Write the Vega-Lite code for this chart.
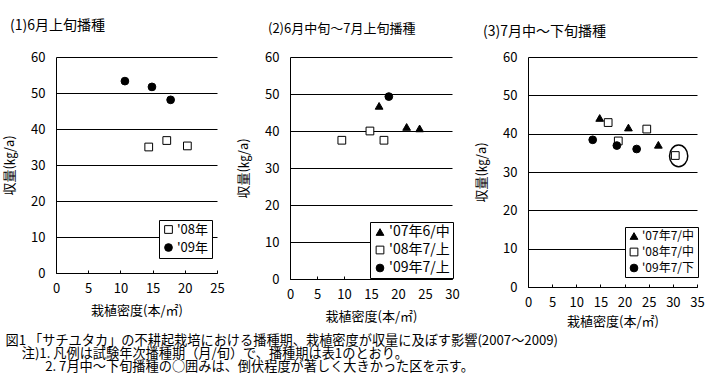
{
  "$schema": "https://vega.github.io/schema/vega-lite/v6.json",
  "padding": {"left": 3, "top": 19, "right": 2, "bottom": 2},
  "background": "white",
  "config": {
    "font": "Noto Sans CJK JP",
    "view": {"stroke": null},
    "axis": {
      "domainColor": "black", "domainWidth": 1,
      "gridColor": "black", "gridWidth": 1, "gridOpacity": 1,
      "tickColor": "black", "labelOverlap": false,
      "labelColor": "black", "labelFontSize": 13,
      "titleColor": "black", "titleFontSize": 13, "titleFontWeight": "normal"
    },
    "axisX": {"grid": false, "tickSize": -3, "labelPadding": 12, "titlePadding": 9, "labelFlush": false},
    "axisY": {"grid": true, "ticks": false, "labelPadding": 11, "titlePadding": 14},
    "legend": {
      "orient": "none", "title": null,
      "strokeColor": "black", "fillColor": "white", "padding": 3,
      "cornerRadius": 0, "labelColor": "black", "labelFontSize": 13,
      "symbolStrokeColor": "black", "symbolStrokeWidth": 1, "symbolSize": 60,
      "labelOffset": 2, "rowPadding": 4
    },
    "title": {"fontWeight": "normal", "color": "black", "anchor": "start", "frame": "group"}
  },
  "datasets": {
    "p1": [
      {"series": "'08年", "density": 14.4, "yield": 35.0},
      {"series": "'08年", "density": 17.2, "yield": 36.8},
      {"series": "'08年", "density": 20.4, "yield": 35.3},
      {"series": "'09年", "density": 10.7, "yield": 53.3},
      {"series": "'09年", "density": 14.9, "yield": 51.7},
      {"series": "'09年", "density": 17.8, "yield": 48.1}
    ],
    "p2": [
      {"series": "'07年6/中", "density": 16.5, "yield": 46.8},
      {"series": "'07年6/中", "density": 21.6, "yield": 41.1},
      {"series": "'07年6/中", "density": 24.0, "yield": 40.7},
      {"series": "'08年7/上", "density": 9.6, "yield": 37.5},
      {"series": "'08年7/上", "density": 14.8, "yield": 40.0},
      {"series": "'08年7/上", "density": 17.4, "yield": 37.5},
      {"series": "'09年7/上", "density": 18.3, "yield": 49.3}
    ],
    "p3": [
      {"series": "'07年7/中", "density": 14.85, "yield": 44.1},
      {"series": "'07年7/中", "density": 20.8, "yield": 41.6},
      {"series": "'07年7/中", "density": 27.0, "yield": 37.1},
      {"series": "'08年7/中", "density": 16.6, "yield": 42.9},
      {"series": "'08年7/中", "density": 18.7, "yield": 38.1},
      {"series": "'08年7/中", "density": 24.6, "yield": 41.2},
      {"series": "'08年7/中", "density": 30.5, "yield": 34.3},
      {"series": "'09年7/下", "density": 13.4, "yield": 38.4},
      {"series": "'09年7/下", "density": 18.4, "yield": 36.9},
      {"series": "'09年7/下", "density": 22.5, "yield": 36.0}
    ],
    "lodging": [
      {"density": 31.2, "yield": 34.2}
    ]
  },
  "title": {
    "text": [
      "図1 「サチユタカ」の不耕起栽培における播種期、栽植密度が収量に及ぼす影響(2007～2009)",
      "\u200b\u3000 注)1. 凡例は試験年次播種期（月/旬）で、播種期は表1のとおり。",
      "\u200b\u3000\u3000\u30002. 7月中～下旬播種の○囲みは、倒伏程度が著しく大きかった区を示す。"
    ],
    "orient": "bottom", "anchor": "start", "frame": "bounds",
    "fontSize": 13.2, "lineHeight": 12.9, "offset": 7, "dx": 2,
    "fontWeight": "normal", "color": "black"
  },
  "resolve": {
    "scale": {"shape": "independent", "fill": "independent", "stroke": "independent"},
    "legend": {"shape": "independent", "fill": "independent", "stroke": "independent"}
  },
  "spacing": 12,
  "hconcat": [
    {
      "width": 161, "height": 216,
      "title": {"text": "(1)6月上旬播種", "fontSize": 14, "dx": -46, "offset": 18},
      "data": {"name": "p1"},
      "mark": {"type": "point", "filled": true, "strokeWidth": 1, "size": 60, "opacity": 1},
      "encoding": {
        "x": {"field": "density", "type": "quantitative", "scale": {"domain": [0, 25], "nice": false},
              "axis": {"values": [0, 5, 10, 15, 20, 25], "title": "栽植密度(本/㎡)"}},
        "y": {"field": "yield", "type": "quantitative", "scale": {"domain": [0, 60], "nice": false},
              "axis": {"values": [0, 10, 20, 30, 40, 50, 60], "title": "収量(㎏/a)"}},
        "shape": {"field": "series", "type": "nominal",
                  "scale": {"domain": ["'08年", "'09年"], "range": ["square", "circle"]},
                  "legend": {"legendX": 103, "legendY": 163}},
        "fill": {"field": "series", "type": "nominal",
                 "scale": {"domain": ["'08年", "'09年"], "range": ["white", "black"]},
                 "legend": {"legendX": 103, "legendY": 163}},
        "stroke": {"field": "series", "type": "nominal",
                   "scale": {"domain": ["'08年", "'09年"], "range": ["black", "black"]},
                   "legend": {"legendX": 103, "legendY": 163}}
      }
    },
    {
      "spacing": 15,
      "resolve": {
        "scale": {"shape": "independent", "fill": "independent", "stroke": "independent"},
        "legend": {"shape": "independent", "fill": "independent", "stroke": "independent"}
      },
      "hconcat": [
        {
          "width": 162, "height": 222,
          "title": {"text": "(2)6月中旬～7月上旬播種", "fontSize": 13, "dx": -22, "offset": 15},
          "data": {"name": "p2"},
          "mark": {"type": "point", "filled": true, "strokeWidth": 1, "size": 60, "opacity": 1},
          "encoding": {
            "x": {"field": "density", "type": "quantitative", "scale": {"domain": [0, 30], "nice": false},
                  "axis": {"values": [0, 5, 10, 15, 20, 25, 30], "title": "栽植密度(本/㎡)"}},
            "y": {"field": "yield", "type": "quantitative", "scale": {"domain": [0, 60], "nice": false},
                  "axis": {"values": [0, 10, 20, 30, 40, 50, 60], "title": "収量(㎏/a)"}},
            "shape": {"field": "series", "type": "nominal",
                      "scale": {"domain": ["'07年6/中", "'08年7/上", "'09年7/上"], "range": ["triangle-up", "square", "circle"]},
                      "legend": {"legendX": 80, "legendY": 165, "labelFontSize": 14}},
            "fill": {"field": "series", "type": "nominal",
                     "scale": {"domain": ["'07年6/中", "'08年7/上", "'09年7/上"], "range": ["black", "white", "black"]},
                     "legend": {"legendX": 80, "legendY": 165, "labelFontSize": 14}},
            "stroke": {"field": "series", "type": "nominal",
                       "scale": {"domain": ["'07年6/中", "'08年7/上", "'09年7/上"], "range": ["black", "black", "black"]},
                       "legend": {"legendX": 80, "legendY": 165, "labelFontSize": 14}}
          }
        },
        {
          "width": 169, "height": 230,
          "title": {"text": "(3)7月中～下旬播種", "fontSize": 14, "dx": -45, "offset": 12},
          "encoding": {
            "x": {"field": "density", "type": "quantitative", "scale": {"domain": [0, 35], "nice": false},
                  "axis": {"values": [0, 5, 10, 15, 20, 25, 30, 35], "title": "栽植密度(本/㎡)", "titlePadding": 6}},
            "y": {"field": "yield", "type": "quantitative", "scale": {"domain": [0, 60], "nice": false},
                  "axis": {"values": [0, 10, 20, 30, 40, 50, 60], "title": "収量(㎏/a)"}}
          },
          "layer": [
            {
              "data": {"name": "p3"},
              "mark": {"type": "point", "filled": true, "strokeWidth": 1, "size": 60, "opacity": 1},
              "encoding": {
                "shape": {"field": "series", "type": "nominal",
                          "scale": {"domain": ["'07年7/中", "'08年7/中", "'09年7/下"], "range": ["triangle-up", "square", "circle"]},
                          "legend": {"legendX": 97, "legendY": 170, "labelFontSize": 12}},
                "fill": {"field": "series", "type": "nominal",
                         "scale": {"domain": ["'07年7/中", "'08年7/中", "'09年7/下"], "range": ["black", "white", "black"]},
                         "legend": {"legendX": 97, "legendY": 170, "labelFontSize": 12}},
                "stroke": {"field": "series", "type": "nominal",
                           "scale": {"domain": ["'07年7/中", "'08年7/中", "'09年7/下"], "range": ["black", "black", "black"]},
                           "legend": {"legendX": 97, "legendY": 170, "labelFontSize": 12}}
              }
            },
            {
              "data": {"name": "lodging"},
              "mark": {"type": "point", "shape": "M -0.84 0 A 0.84 1 0 1 0 0.84 0 A 0.84 1 0 1 0 -0.84 0 Z",
                       "size": 471, "filled": false, "stroke": "black", "strokeWidth": 1.5, "opacity": 1}
            }
          ]
        }
      ]
    }
  ]
}
